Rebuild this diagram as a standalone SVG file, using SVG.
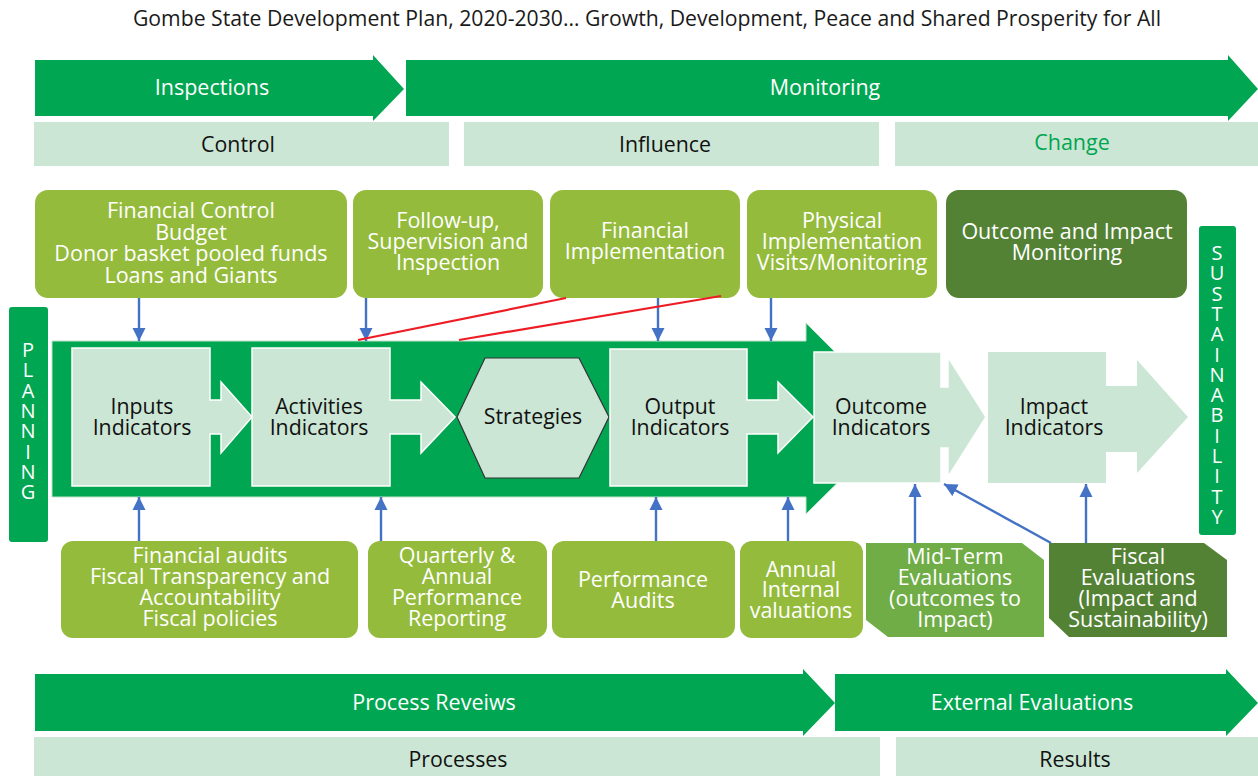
<svg xmlns="http://www.w3.org/2000/svg" width="1258" height="776" viewBox="0 0 1258 776">
<defs>
<style>
text{font-family:"Open Sans","Liberation Sans",sans-serif;text-anchor:middle}
.t{font-size:21.2px;fill:#1a1a1a}
.wl{font-size:21.5px;fill:#fff}
.bl{font-size:21.3px;fill:#111}
.gt{font-size:21.5px;fill:#00A651}
.bar{fill:#00A651}
.mint{fill:#CBE6D4}
.mintb{fill:#CBE6D4;stroke:#fff;stroke-width:1.5}
.lg{fill:#94BB3C}
.mg{fill:#70AD47}
.dg{fill:#548235}
.blue{stroke:#4472C4;stroke-width:2.4;fill:none}
.red{stroke:#EE1C25;stroke-width:2.2;fill:none}
.vert{font-size:20px;fill:#fff;writing-mode:vertical-rl;text-orientation:upright;text-anchor:start;letter-spacing:-6.7px}
</style>
<marker id="ah" viewBox="0 0 10 10" refX="10" refY="5" markerWidth="5.5" markerHeight="5.5" markerUnits="strokeWidth" orient="auto">
<path d="M0,0 L10,5 L0,10 z" fill="#4472C4"/>
</marker>
</defs>
<rect width="1258" height="776" fill="#fff"/>
<text class="t" x="647" y="26">Gombe State Development Plan, 2020-2030… Growth, Development, Peace and Shared Prosperity for All</text>

<g id="inspections">
<polygon class="bar" points="35,60 373,60 373,55 404,89 373,121 373,116 35,116"/>
<text class="wl" x="212" y="95">Inspections</text>
</g>
<g id="monitoring">
<polygon class="bar" points="406,60 1228,60 1228,55 1258,89 1228,121 1228,116 406,116"/>
<text class="wl" x="825" y="95">Monitoring</text>
</g>
<g id="control">
<rect class="mint" x="34" y="122" width="415" height="44"/>
<text class="bl" x="238" y="152">Control</text>
</g>
<g id="influence">
<rect class="mint" x="464" y="122" width="415" height="44"/>
<text class="bl" x="665" y="152">Influence</text>
</g>
<g id="change">
<rect class="mint" x="895" y="122" width="363" height="44"/>
<text class="gt" x="1072" y="150">Change</text>
</g>

<g id="financial-control">
<rect class="lg" x="35" y="190" width="312" height="108" rx="13"/>
<text class="wl"><tspan x="191" y="218">Financial Control</tspan><tspan x="191" y="240">Budget</tspan><tspan x="191" y="261">Donor basket pooled funds</tspan><tspan x="191" y="283">Loans and Giants</tspan></text>
</g>
<g id="follow-up">
<rect class="lg" x="353" y="190" width="190" height="108" rx="13"/>
<text class="wl"><tspan x="448" y="228">Follow-up,</tspan><tspan x="448" y="249">Supervision and</tspan><tspan x="448" y="270">Inspection</tspan></text>
</g>
<g id="financial-implementation">
<rect class="lg" x="550" y="190" width="190" height="108" rx="13"/>
<text class="wl"><tspan x="645" y="238">Financial</tspan><tspan x="645" y="259">Implementation</tspan></text>
</g>
<g id="physical-implementation">
<rect class="lg" x="747" y="190" width="190" height="108" rx="13"/>
<text class="wl"><tspan x="842" y="228">Physical</tspan><tspan x="842" y="249">Implementation</tspan><tspan x="842" y="270">Visits/Monitoring</tspan></text>
</g>
<g id="outcome-impact-monitoring">
<rect class="dg" x="946" y="190" width="241" height="108" rx="13"/>
<text class="wl"><tspan x="1067" y="239">Outcome and Impact</tspan><tspan x="1067" y="260">Monitoring</tspan></text>
</g>

<g id="planning">
<rect class="bar" x="9" y="307" width="39" height="235" rx="3"/>
<text class="vert" x="28" y="336">PLANNING</text>
</g>
<g id="sustainability">
<rect class="bar" x="1199" y="226" width="37" height="309" rx="3"/>
<text class="vert" x="1217" y="239">SUSTAINABILITY</text>
</g>

<g id="band">
<polygon class="bar" points="52,341 806,341 806,323 902,419 806,514 806,497 52,497" stroke="#bfe3c9" stroke-width="1"/>
</g>

<g id="inputs-indicators">
<polygon class="mintb" points="72,348 210,348 210,400 221,400 221,382 252,417 221,453 221,434 210,434 210,486 72,486"/>
<text class="bl"><tspan x="142" y="414">Inputs</tspan><tspan x="142" y="435">Indicators</tspan></text>
</g>
<g id="activities-indicators">
<polygon class="mintb" points="252,348 390,348 390,400 421,400 421,382 455,417 421,453 421,434 390,434 390,486 252,486"/>
<text class="bl"><tspan x="319" y="414">Activities</tspan><tspan x="319" y="435">Indicators</tspan></text>
</g>
<g id="strategies">
<polygon class="mint" points="457,417 485,358 579,358 609,417 579,478 485,478" stroke="#333" stroke-width="1.2"/>
<text class="bl" x="533" y="424">Strategies</text>
</g>
<g id="output-indicators">
<polygon class="mintb" points="610,349 747,349 747,400 778,400 778,382 813,417 778,453 778,434 747,434 747,486 610,486"/>
<text class="bl"><tspan x="680" y="414">Output</tspan><tspan x="680" y="435">Indicators</tspan></text>
</g>
<g id="outcome-indicators">
<polygon class="mintb" points="814,352 941,352 941,387 948,387 948,357 986,417 948,477 948,448 941,448 941,483 814,483"/>
<text class="bl"><tspan x="881" y="414">Outcome</tspan><tspan x="881" y="435">Indicators</tspan></text>
</g>
<g id="impact-indicators">
<polygon class="mint" points="988,352 1106,352 1106,386 1137,386 1137,360 1188,417 1137,473 1137,452 1106,452 1106,483 988,483"/>
<text class="bl"><tspan x="1054" y="414">Impact</tspan><tspan x="1054" y="435">Indicators</tspan></text>
</g>

<g id="financial-audits">
<rect class="lg" x="61" y="541" width="297" height="97" rx="12"/>
<text class="wl"><tspan x="210" y="563">Financial audits</tspan><tspan x="210" y="584">Fiscal Transparency and</tspan><tspan x="210" y="605">Accountability</tspan><tspan x="210" y="626">Fiscal policies</tspan></text>
</g>
<g id="quarterly">
<rect class="lg" x="368" y="541" width="179" height="97" rx="12"/>
<text class="wl"><tspan x="457" y="563">Quarterly &amp;</tspan><tspan x="457" y="584">Annual</tspan><tspan x="457" y="605">Performance</tspan><tspan x="457" y="626">Reporting</tspan></text>
</g>
<g id="performance-audits">
<rect class="lg" x="552" y="541" width="183" height="97" rx="12"/>
<text class="wl"><tspan x="643" y="587">Performance</tspan><tspan x="643" y="608">Audits</tspan></text>
</g>
<g id="annual-internal">
<rect class="lg" x="740" y="541" width="123" height="97" rx="12"/>
<text class="wl"><tspan x="801" y="577">Annual</tspan><tspan x="801" y="597">Internal</tspan><tspan x="801" y="618">valuations</tspan></text>
</g>
<g id="mid-term">
<polygon class="mg" points="866,543 1022,543 1044,560 1044,637 888,637 866,620"/>
<text class="wl"><tspan x="955" y="564">Mid-Term</tspan><tspan x="955" y="585">Evaluations</tspan><tspan x="955" y="606">(outcomes to</tspan><tspan x="955" y="627">Impact)</tspan></text>
</g>
<g id="fiscal-evaluations">
<polygon class="dg" points="1049,543 1204,543 1227,560 1227,637 1069,637 1049,618"/>
<text class="wl"><tspan x="1138" y="564">Fiscal</tspan><tspan x="1138" y="585">Evaluations</tspan><tspan x="1138" y="606">(Impact and</tspan><tspan x="1138" y="627">Sustainability)</tspan></text>
</g>

<g id="process-reviews">
<polygon class="bar" points="35,674 803,674 803,669 835,703 803,736 803,731 35,731"/>
<text class="wl" x="434" y="710">Process Reveiws</text>
</g>
<g id="external-evaluations">
<polygon class="bar" points="835,674 1226,674 1226,669 1258,703 1226,736 1226,731 835,731"/>
<text class="wl" x="1032" y="710">External Evaluations</text>
</g>
<g id="processes">
<rect class="mint" x="34" y="737" width="846" height="39"/>
<text class="bl" x="458" y="767">Processes</text>
</g>
<g id="results">
<rect class="mint" x="896" y="737" width="362" height="39"/>
<text class="bl" x="1075" y="767">Results</text>
</g>

<g id="connectors">
<line class="blue" x1="139" y1="298" x2="139" y2="341" marker-end="url(#ah)"/>
<line class="blue" x1="366" y1="298" x2="366" y2="341" marker-end="url(#ah)"/>
<line class="blue" x1="658" y1="298" x2="658" y2="341" marker-end="url(#ah)"/>
<line class="blue" x1="771" y1="298" x2="771" y2="341" marker-end="url(#ah)"/>
<line class="blue" x1="139" y1="541" x2="139" y2="497" marker-end="url(#ah)"/>
<line class="blue" x1="381" y1="541" x2="381" y2="497" marker-end="url(#ah)"/>
<line class="blue" x1="656" y1="541" x2="656" y2="497" marker-end="url(#ah)"/>
<line class="blue" x1="788" y1="541" x2="788" y2="497" marker-end="url(#ah)"/>
<line class="blue" x1="915" y1="543" x2="915" y2="484" marker-end="url(#ah)"/>
<line class="blue" x1="1086" y1="543" x2="1086" y2="484" marker-end="url(#ah)"/>
<line class="blue" x1="1051" y1="543" x2="944" y2="484" marker-end="url(#ah)"/>
<line class="red" x1="566" y1="298" x2="358" y2="340"/>
<line class="red" x1="721" y1="296" x2="459" y2="340"/>
</g>
</svg>
